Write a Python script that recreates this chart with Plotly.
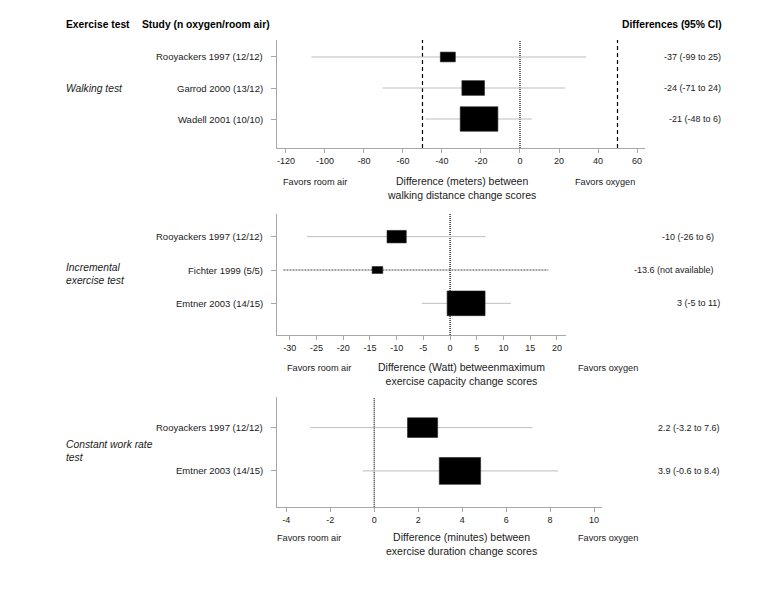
import plotly.graph_objects as go

W, H = 767, 600

# ---------------- data ----------------
walk_studies = ["Rooyackers 1997 (12/12)", "Garrod 2000 (13/12)", "Wadell 2001 (10/10)"]
walk_est = [-37, -24, -21]
walk_lo = [-107, -70.6, -48.4]
walk_hi = [34, 23.4, 6.0]
walk_weight = [7.7, 11.6, 19.3]
walk_text = ["-37 (-99 to 25)", "-24 (-71 to 24)", "-21 (-48 to 6)"]
walk_ticks = [-120, -100, -80, -60, -40, -20, 0, 20, 40, 60]

inc_studies = ["Rooyackers 1997 (12/12)", "Fichter 1999 (5/5)", "Emtner 2003 (14/15)"]
inc_est = [-10, -13.6, 3]
inc_lo = [-26.8, -31.2, -5.3]
inc_hi = [6.6, 18.4, 11.4]
inc_weight = [3.6, 2.0, 7.1]
inc_text = ["-10 (-26 to 6)", "-13.6 (not available)", "3 (-5 to 11)"]
inc_dashed = [False, True, False]
inc_ticks = [-30, -25, -20, -15, -10, -5, 0, 5, 10, 15, 20]

con_studies = ["Rooyackers 1997 (12/12)", "Emtner 2003 (14/15)"]
con_est = [2.2, 3.9]
con_lo = [-2.9, -0.53]
con_hi = [7.2, 8.36]
con_weight = [1.37, 1.88]
con_text = ["2.2 (-3.2 to 7.6)", "3.9 (-0.6 to 8.4)"]
con_ticks = [-4, -2, 0, 2, 4, 6, 8, 10]

# ---------------- layout geometry (pixels) ----------------
FONT = "Liberation Sans, Arial, sans-serif"
TXT = "#1a1a1a"
AXC = "#a8a8a8"
PAD = 2.5  # annotation inner padding compensation

def px(x):
    return x / W

def py(y):
    return 1 - y / H

panels = [
    dict(studies=walk_studies, est=walk_est, lo=walk_lo, hi=walk_hi, wt=walk_weight,
         text=walk_text, dashed=[False] * 3, ticks=walk_ticks,
         xdom=(277, 645), xr=(-124.6, 64.1), ydom=(40, 148), yr=(2.935, -0.548),
         rowpx=31, refs=[(0, "dot"), (-50, "dash"), (50, "dash")],
         group="<i>Walking test</i>", gy=88,
         title="Difference (meters) between<br>walking distance change scores",
         ty=188, fy=181.7, fra=315, fox=605, rx=[720, 720, 720]),
    dict(studies=inc_studies, est=inc_est, lo=inc_lo, hi=inc_hi, wt=inc_weight,
         text=inc_text, dashed=inc_dashed, ticks=inc_ticks,
         xdom=(277, 566), xr=(-32.4, 21.7), ydom=(214, 335), yr=(2.95, -0.68),
         rowpx=33.3, refs=[(0, "dot")],
         group="<i>Incremental<br>exercise test</i>", gy=274,
         title="Difference (Watt) betweenmaximum<br>exercise capacity change scores",
         ty=374.2, fy=367.7, fra=318.5, fox=607.7, rx=[713, 713, 719]),
    dict(studies=con_studies, est=con_est, lo=con_lo, hi=con_hi, wt=con_weight,
         text=con_text, dashed=[False] * 2, ticks=con_ticks,
         xdom=(277, 602), xr=(-4.42, 10.36), ydom=(397.3, 507.3), yr=(1.84, -0.70),
         rowpx=43.3, refs=[(0, "dot")],
         group="<i>Constant work rate<br>test</i>", gy=450.5,
         title="Difference (minutes) between<br>exercise duration change scores",
         ty=543.9, fy=537.7, fra=309, fox=607.7, rx=[719, 719]),
]

DASHES = {"dot": "1px,1px", "dash": "4px,3px"}

fig = go.Figure()
shapes = []
annotations = []

for i, p in enumerate(panels):
    k = "" if i == 0 else str(i + 1)
    xa, ya = "x" + k, "y" + k
    n = len(p["studies"])
    rows = list(range(n))
    xpx_per_unit = (p["xdom"][1] - p["xdom"][0]) / (p["xr"][1] - p["xr"][0])

    # reference lines
    for xv, dash in p["refs"]:
        shapes.append(dict(type="line", xref=xa, yref=ya + " domain", x0=xv, x1=xv, y0=0, y1=1,
                           line=dict(color="black", width=1.2, dash=DASHES[dash]), layer="below"))

    # CI lines
    for j in rows:
        if p["dashed"][j]:
            line = dict(color="#444444", width=1, dash="2px,1px")
        else:
            line = dict(color="#bdbdbd", width=1)
        fig.add_trace(go.Scatter(x=[p["lo"][j], p["hi"][j]], y=[j, j], mode="lines",
                                 line=line, xaxis=xa, yaxis=ya, showlegend=False,
                                 hoverinfo="skip"))

    # boxes (size proportional to weight)
    for j in rows:
        wpx = p["wt"][j] * xpx_per_unit
        hunits = 0.65 * wpx / p["rowpx"]
        shapes.append(dict(type="rect", xref=xa, yref=ya,
                           x0=p["est"][j] - p["wt"][j] / 2, x1=p["est"][j] + p["wt"][j] / 2,
                           y0=j - hunits / 2, y1=j + hunits / 2,
                           fillcolor="black", line=dict(color="#222222", width=0.6)))

    # axes
    fig.layout["xaxis" + k] = dict(
        domain=[px(p["xdom"][0]), px(p["xdom"][1])], range=list(p["xr"]), anchor=ya,
        showline=True, linecolor=AXC, linewidth=1, showgrid=False, zeroline=False,
        tickvals=p["ticks"], ticktext=[str(t) for t in p["ticks"]],
        ticks="outside", ticklen=4, tickcolor=AXC,
        tickfont=dict(size=9, color=TXT, family=FONT), fixedrange=True)
    fig.layout["yaxis" + k] = dict(
        domain=[py(p["ydom"][1]), py(p["ydom"][0])], range=list(p["yr"]), anchor=xa,
        showline=True, linecolor=AXC, linewidth=1, showgrid=False, zeroline=False,
        tickvals=rows, ticks="outside", ticklen=5, tickcolor=AXC,
        showticklabels=False, fixedrange=True)

    # study labels and effect labels
    for j in rows:
        annotations.append(dict(text=p["studies"][j], x=px(262 + PAD), xref="paper", y=j, yref=ya,
                                xanchor="right", yanchor="middle", showarrow=False,
                                font=dict(size=9.5, color=TXT, family=FONT)))
        annotations.append(dict(text=p["text"][j], x=px(p["rx"][j] + PAD), xref="paper", y=j, yref=ya,
                                xanchor="right", yanchor="middle", showarrow=False,
                                font=dict(size=9, color=TXT, family=FONT)))

    # group label
    annotations.append(dict(text=p["group"], x=px(66.5 - PAD), xref="paper", y=py(p["gy"]), yref="paper",
                            xanchor="left", yanchor="middle", align="left", showarrow=False,
                            font=dict(size=10.3, color=TXT, family=FONT)))
    # axis title + favors
    annotations.append(dict(text=p["title"], x=px(461), xref="paper", y=py(p["ty"]), yref="paper",
                            xanchor="center", yanchor="middle", align="center", showarrow=False,
                            font=dict(size=10.5, color=TXT, family=FONT)))
    annotations.append(dict(text="Favors room air", x=px(p["fra"]), xref="paper", y=py(p["fy"]),
                            yref="paper", xanchor="center", yanchor="middle", showarrow=False,
                            font=dict(size=9.2, color=TXT, family=FONT)))
    annotations.append(dict(text="Favors oxygen", x=px(p["fox"]), xref="paper", y=py(p["fy"]),
                            yref="paper", xanchor="center", yanchor="middle", showarrow=False,
                            font=dict(size=9.2, color=TXT, family=FONT)))

# headers
for txt, x, anchor in [("Exercise test", 66.5 - PAD, "left"),
                       ("Study (n oxygen/room air)", 142 - PAD, "left"),
                       ("Differences (95% CI)", 721 + PAD, "right")]:
    annotations.append(dict(text="<b>" + txt + "</b>", x=px(x), xref="paper", y=py(25), yref="paper",
                            xanchor=anchor, yanchor="middle", showarrow=False,
                            font=dict(size=10.3, color="black", family=FONT)))

fig.update_layout(width=W, height=H, margin=dict(l=0, r=0, t=0, b=0),
                  paper_bgcolor="white", plot_bgcolor="white",
                  shapes=shapes, annotations=annotations, showlegend=False,
                  font=dict(family=FONT, color=TXT))

fig.write_html("out.html", config={"displayModeBar": False, "staticPlot": True})

# remove the default page margin so the figure sits at the window origin
with open("out.html", "r", encoding="utf-8") as f:
    html = f.read()
html = html.replace("<head>", "<head><style>html,body{margin:0;padding:0;overflow:hidden;}</style>", 1)
with open("out.html", "w", encoding="utf-8") as f:
    f.write(html)
